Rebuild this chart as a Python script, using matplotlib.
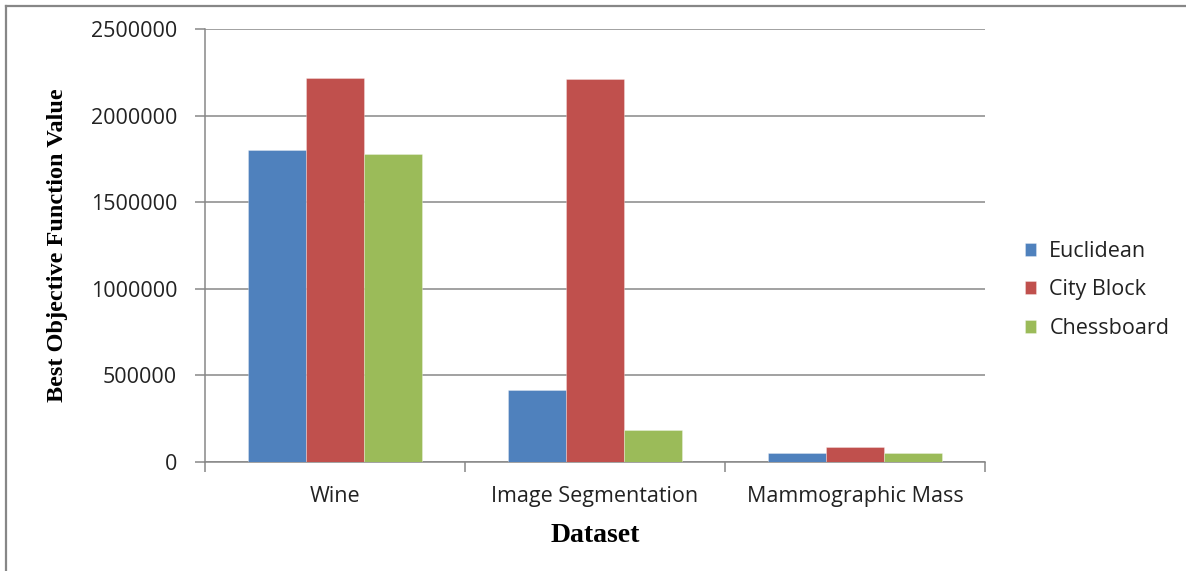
import matplotlib
matplotlib.use("Agg")
import matplotlib.pyplot as plt
from matplotlib.lines import Line2D
import numpy as np

datasets = ["Wine", "Image Segmentation", "Mammographic Mass"]
series_names = ["Euclidean", "City Block", "Chessboard"]
euclidean = [1800000, 415000, 52000]
city_block = [2215000, 2210000, 87000]
chessboard = [1778000, 182000, 52000]
yticks = [0, 500000, 1000000, 1500000, 2000000, 2500000]

colors = ["#4F81BD", "#C0504D", "#9BBB59"]
grid_col = "#878787"
sans = ["Open Sans", "DejaVu Sans"]
serif = ["Liberation Serif", "DejaVu Serif"]

W, H = 1186, 571
fig = plt.figure(figsize=(W / 100, H / 100), dpi=100)
ax = fig.add_axes([205 / W, 1 - 462 / H, (985 - 205) / W, (462 - 29) / H])

x = np.arange(len(datasets))
bw = 1 / 4.5
for i, (vals, name) in enumerate(zip([euclidean, city_block, chessboard], series_names)):
    ax.bar(x + (i - 1) * bw, vals, width=bw, color=colors[i], label=name,
           edgecolor=(1, 1, 1, 0.35), linewidth=0.6, zorder=3)

ax.set_xlim(-0.5, 2.5)
ax.set_ylim(0, 2500000)
ax.set_yticks(yticks)
ax.set_yticklabels([str(v) for v in yticks], fontfamily=sans, fontsize=15.5, color="#222222")
ax.yaxis.grid(True, color=grid_col, linewidth=1.1, zorder=0)

# category boundaries carry the tick marks, centres carry the labels
ax.set_xticks([-0.5, 0.5, 1.5, 2.5])
ax.set_xticklabels([])
ax.set_xticks(x, minor=True)
ax.set_xticklabels(datasets, minor=True, fontfamily=sans, fontsize=15.5, color="#222222")
ax.tick_params(axis="x", which="major", length=7, width=1.1, color=grid_col, direction="out")
ax.tick_params(axis="x", which="minor", length=0, pad=17)
ax.tick_params(axis="y", length=7, width=1.1, color=grid_col, direction="out", pad=13)

for s in ["top", "right"]:
    ax.spines[s].set_visible(False)
for s in ["left", "bottom"]:
    ax.spines[s].set_color(grid_col)
    ax.spines[s].set_linewidth(1.1)

fig.text(595 / W, 1 - 536 / H, "Dataset", ha="center", va="center",
         fontfamily=serif, fontweight="bold", fontsize=20)
fig.text(58 / W, 1 - 245 / H, "Best Objective Function Value", ha="center", va="center",
         rotation=90, fontfamily=serif, fontweight="bold", fontsize=17.5)

leg = fig.legend(loc="center left", bbox_to_anchor=(1016 / W, 1 - 290 / H), frameon=False,
                 prop={"family": sans, "size": 15.5}, handlelength=0.55, handleheight=0.55,
                 handletextpad=0.6, labelspacing=0.8, borderaxespad=0)
for t in leg.get_texts():
    t.set_color("#222222")

# outer chart frame (top and left edges)
fig.add_artist(Line2D([6 / W, 1.0], [1 - 6 / H, 1 - 6 / H], transform=fig.transFigure,
                      color=grid_col, linewidth=1.6))
fig.add_artist(Line2D([6 / W, 6 / W], [0, 1 - 6 / H], transform=fig.transFigure,
                      color=grid_col, linewidth=1.6))

fig.savefig("out.png", dpi=100, facecolor="white")
